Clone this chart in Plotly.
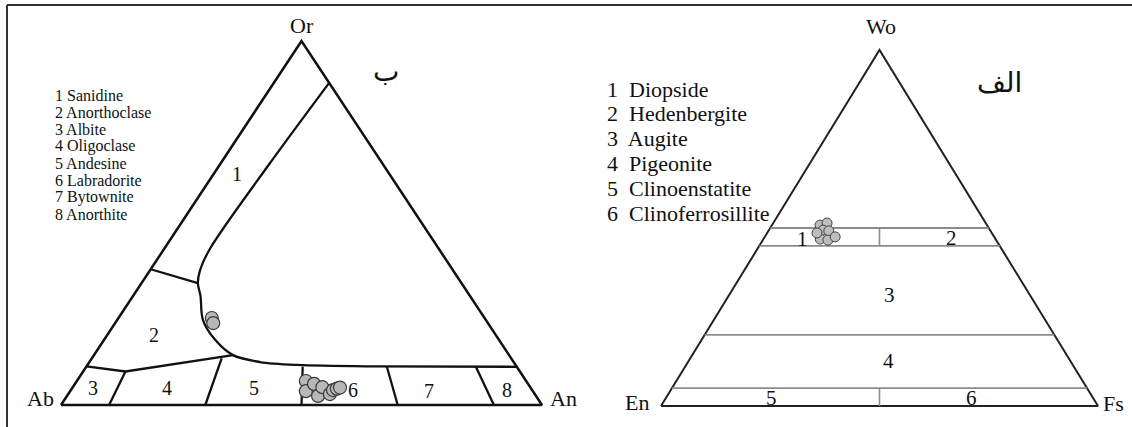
import plotly.graph_objects as go

W, H = 1132, 427

# ---- feldspar diagram (apex Or, left Ab, right An), fractions ----
fsp_outline_or = [0.0, 0.0, 1.0, 0.0]
fsp_outline_an = [0.0, 1.0, 0.0, 0.0]

# solvus-like curve bounding sanidine / anorthoclase / plagioclase
fsp_curve_or = [0.885, 0.66, 0.43, 0.37, 0.335, 0.30, 0.234, 0.179, 0.137, 0.118, 0.110, 0.106, 0.105]
fsp_curve_an = [0.115, 0.102, 0.095, 0.104, 0.117, 0.140, 0.178, 0.231, 0.289, 0.355, 0.436, 0.600, 0.895]

# straight field boundaries
fsp_tie_or = [[0.373, 0.335], [0.106, 0.092, 0.137], [0.092, 0.0], [0.128, 0.0],
              [0.105, 0.0], [0.105, 0.0], [0.105, 0.0]]
fsp_tie_an = [[0.0, 0.117], [0.0, 0.088, 0.289], [0.088, 0.10], [0.27, 0.30],
              [0.45, 0.50], [0.625, 0.70], [0.81, 0.90]]

fsp_sample_or = [0.239, 0.225, 0.066, 0.038, 0.058, 0.025, 0.049, 0.030, 0.041, 0.045, 0.048]
fsp_sample_an = [0.194, 0.204, 0.476, 0.490, 0.497, 0.522, 0.519, 0.544, 0.545, 0.551, 0.556]

fsp_names = ["Sanidine", "Anorthoclase", "Albite", "Oligoclase",
             "Andesine", "Labradorite", "Bytownite", "Anorthite"]

# ---- pyroxene diagram (apex Wo, left En, right Fs) ----
px_levels_wo = [0.50, 0.45, 0.20, 0.05]
px_split_wo = [[0.50, 0.45], [0.05, 0.0]]

px_sample_wo = [0.508, 0.514, 0.494, 0.492, 0.469, 0.466, 0.475, 0.486]
px_sample_fs = [0.110, 0.123, 0.124, 0.138, 0.130, 0.149, 0.161, 0.114]

px_names = ["Diopside", "Hedenbergite", "Augite", "Pigeonite",
            "Clinoenstatite", "Clinoferrosillite"]


def tern_xy(top, right):
    # position inside a unit-base triangle: x along base, y = apex fraction
    xs = [r + t / 2 for t, r in zip(top, right)]
    ys = list(top)
    return xs, ys


fig = go.Figure()
SERIF = "Liberation Serif, Times New Roman, serif"

# left diagram lines
x, y = tern_xy(fsp_outline_or, fsp_outline_an)
fig.add_trace(go.Scatter(x=x, y=y, mode="lines", line=dict(color="#111", width=2.5),
                         xaxis="x", yaxis="y", hoverinfo="skip"))
x, y = tern_xy(fsp_curve_or, fsp_curve_an)
fig.add_trace(go.Scatter(x=x, y=y, mode="lines",
                         line=dict(color="#111", width=2.3, shape="spline", smoothing=0.9),
                         xaxis="x", yaxis="y", hoverinfo="skip"))
for t_or, t_an in zip(fsp_tie_or, fsp_tie_an):
    x, y = tern_xy(t_or, t_an)
    fig.add_trace(go.Scatter(x=x, y=y, mode="lines", line=dict(color="#111", width=2.3),
                             xaxis="x", yaxis="y", hoverinfo="skip"))
x, y = tern_xy(fsp_sample_or, fsp_sample_an)
fig.add_trace(go.Scatter(x=x, y=y, mode="markers",
                         marker=dict(size=13, color="#b8b8b8", line=dict(color="#3a3a3a", width=1.2)),
                         xaxis="x", yaxis="y"))

# right diagram lines
x, y = tern_xy([0.0, 0.0, 1.0, 0.0], [0.0, 1.0, 0.0, 0.0])
fig.add_trace(go.Scatter(x=x, y=y, mode="lines", line=dict(color="#222", width=2),
                         xaxis="x2", yaxis="y2", hoverinfo="skip"))
for w in px_levels_wo:
    x, y = tern_xy([w, w], [0.0, 1.0 - w])
    fig.add_trace(go.Scatter(x=x, y=y, mode="lines", line=dict(color="#8c8c8c", width=1.8),
                             xaxis="x2", yaxis="y2", hoverinfo="skip"))
for pair in px_split_wo:
    x, y = tern_xy(pair, [(1.0 - w) / 2 for w in pair])
    fig.add_trace(go.Scatter(x=x, y=y, mode="lines", line=dict(color="#8c8c8c", width=1.6),
                             xaxis="x2", yaxis="y2", hoverinfo="skip"))
x, y = tern_xy(px_sample_wo, px_sample_fs)
fig.add_trace(go.Scatter(x=x, y=y, mode="markers",
                         marker=dict(size=10, color="#bdbdbd", line=dict(color="#444", width=1)),
                         xaxis="x2", yaxis="y2"))

# axis placement from the pixel corners of each triangle
PAD = 0.04


def place(x0, x1, y_base, y_apex):
    wpx, hpx = x1 - x0, y_base - y_apex
    xd = [(x0 - PAD * wpx) / W, (x1 + PAD * wpx) / W]
    yd = [(H - (y_base + PAD * hpx)) / H, (H - (y_apex - PAD * hpx)) / H]
    return xd, yd


xd1, yd1 = place(61, 542, 405, 41)
xd2, yd2 = place(661, 1098, 406, 50)
ax = dict(visible=False, range=[-PAD, 1 + PAD], fixedrange=True)
fig.update_layout(
    xaxis=dict(domain=xd1, **ax), yaxis=dict(domain=yd1, **ax),
    xaxis2=dict(domain=xd2, anchor="y2", **ax), yaxis2=dict(domain=yd2, anchor="x2", **ax),
)

ann = []


def ptext(px, py, s, size, xanchor="center", family=SERIF):
    ann.append(dict(x=px / W, y=1 - py / H, xref="paper", yref="paper", text=s,
                    showarrow=False, xanchor=xanchor, yanchor="middle", borderpad=0,
                    font=dict(family=family, size=size, color="#111")))


def atext(axn, xv, yv, s, size):
    ann.append(dict(x=xv, y=yv, xref="x" + axn, yref="y" + axn, text=s, showarrow=False,
                    font=dict(family=SERIF, size=size, color="#111")))


# left diagram text
ptext(302, 26, "Or", 22)
ptext(40, 398, "Ab", 22)
ptext(563, 398, "An", 22)
for i, name in enumerate(fsp_names):
    ptext(54, 95 + i * 17, f"{i + 1} {name}", 16, xanchor="left")
for s, xv, yv in [("1", .366, .636), ("2", .194, .193), ("3", .066, .047), ("4", .220, .047),
                  ("5", .401, .047), ("6", .607, .041), ("7", .765, .038), ("8", .927, .041)]:
    atext("", xv, yv, s, 20)
ptext(386, 72, "ب", 28, family="DejaVu Sans")

# right diagram text
ptext(881, 27, "Wo", 22)
ptext(637, 402, "En", 22)
ptext(1113, 403, "Fs", 22)
for i, name in enumerate(px_names):
    ptext(606, 89 + i * 24.8, f"{i + 1}  {name}", 22, xanchor="left")
for s, xv, yv in [("1", .323, .470), ("2", .664, .473), ("3", .524, .312),
                  ("4", .520, .126), ("5", .252, .023), ("6", .711, .023)]:
    atext("2", xv, yv, s, 21)
ptext(1000, 82, "الف", 28, family="DejaVu Sans")

fig.update_layout(
    width=W, height=H, margin=dict(l=0, r=0, t=0, b=0),
    paper_bgcolor="white", plot_bgcolor="white", showlegend=False,
    annotations=ann,
    shapes=[
        dict(type="line", xref="paper", yref="paper", x0=7 / W, x1=1, y0=1 - 5 / H, y1=1 - 5 / H,
             line=dict(color="#333", width=2)),
        dict(type="line", xref="paper", yref="paper", x0=7 / W, x1=7 / W, y0=0, y1=1 - 5 / H,
             line=dict(color="#333", width=2)),
    ],
)

fig.write_html("out.html", config={"displayModeBar": False},
               post_script="document.body.style.margin='0px';")
